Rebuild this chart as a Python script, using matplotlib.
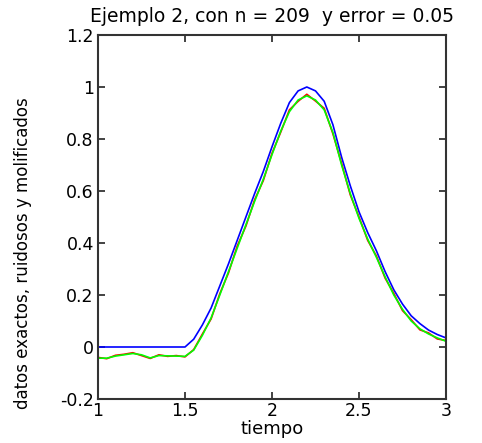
import numpy as np
import matplotlib
matplotlib.use('Agg')
import matplotlib.pyplot as plt

# tiempo grid (step 0.05) and the three curves
t = [1.00, 1.05, 1.10, 1.15, 1.20, 1.25, 1.30, 1.35, 1.40, 1.45,
     1.50, 1.55, 1.60, 1.65, 1.70, 1.75, 1.80, 1.85, 1.90, 1.95,
     2.00, 2.05, 2.10, 2.15, 2.20, 2.25, 2.30, 2.35, 2.40, 2.45,
     2.50, 2.55, 2.60, 2.65, 2.70, 2.75, 2.80, 2.85, 2.90, 2.95, 3.00]

exactos = [0.0, 0.0, 0.0, 0.0, 0.0, 0.0, 0.0, 0.0, 0.0, 0.0,
           0.0, 0.03, 0.085, 0.15, 0.235, 0.32, 0.41, 0.50, 0.59, 0.675,
           0.77, 0.86, 0.94, 0.985, 1.0, 0.985, 0.945, 0.855, 0.73, 0.62,
           0.52, 0.44, 0.37, 0.29, 0.22, 0.165, 0.12, 0.09, 0.065, 0.048, 0.035]

ruidosos = [-0.040, -0.045, -0.032, -0.028, -0.022, -0.033, -0.044, -0.030, -0.036, -0.033,
            -0.038, -0.010, 0.050, 0.108, 0.205, 0.285, 0.388, 0.465, 0.566, 0.640,
            0.745, 0.826, 0.912, 0.945, 0.972, 0.946, 0.918, 0.820, 0.706, 0.585,
            0.500, 0.410, 0.350, 0.265, 0.206, 0.140, 0.105, 0.066, 0.054, 0.031, 0.025]

molificados = [-0.043, -0.043, -0.035, -0.030, -0.025, -0.030, -0.042, -0.033, -0.034, -0.035,
               -0.036, -0.012, 0.045, 0.112, 0.200, 0.290, 0.380, 0.470, 0.560, 0.645,
               0.740, 0.830, 0.905, 0.950, 0.966, 0.950, 0.912, 0.825, 0.700, 0.590,
               0.495, 0.415, 0.345, 0.270, 0.200, 0.145, 0.100, 0.070, 0.050, 0.035, 0.022]

fig = plt.figure(figsize=(4.82, 4.43), dpi=100)
ax = fig.add_axes([98/482, 1 - 399/443, 348/482, 364/443])

ax.plot(t, exactos, color='#0000ff', lw=1.2)
ax.plot(t, ruidosos, color='#ff0000', lw=1.2)
ax.plot(t, molificados, color='#00ff00', lw=1.2)

ax.set_xlim(1, 3)
ax.set_ylim(-0.2, 1.2)
ax.set_xticks([1, 1.5, 2, 2.5, 3])
ax.set_xticklabels(['1', '1.5', '2', '2.5', '3'])
ax.set_yticks([-0.2, 0, 0.2, 0.4, 0.6, 0.8, 1, 1.2])
ax.set_yticklabels(['-0.2', '0', '0.2', '0.4', '0.6', '0.8', '1', '1.2'])

ax.tick_params(direction='in', top=True, right=True, length=5, width=1.2,
               labelsize=12.5, pad=3, colors='#222222', labelcolor='black')
ax.tick_params(axis='x', pad=2)
for s in ax.spines.values():
    s.set_linewidth(1.5)
    s.set_color('#333333')

ax.set_title('Ejemplo 2, con n = 209  y error = 0.05', fontsize=13.5, pad=9)
ax.set_xlabel('tiempo', fontsize=13, labelpad=0)
ax.set_ylabel('datos exactos, ruidosos y molificados', fontsize=12)
ax.yaxis.set_label_coords(-0.19, 0.40)

fig.savefig('out.png', dpi=100)
